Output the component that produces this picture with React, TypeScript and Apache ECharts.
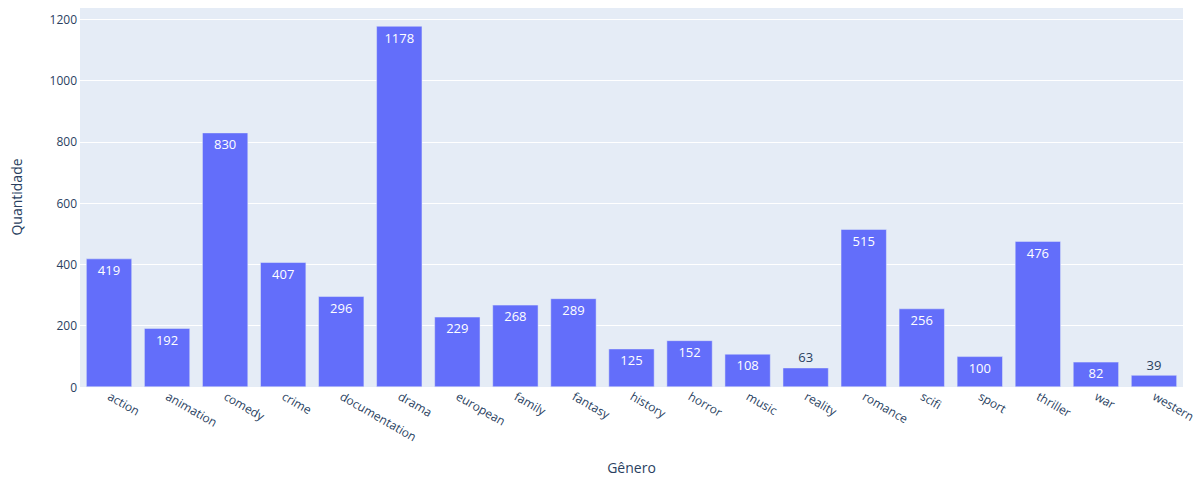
import React, { useEffect, useRef } from "react";
import * as echarts from "echarts";

const categories = [
  "action", "animation", "comedy", "crime", "documentation", "drama", "european",
  "family", "fantasy", "history", "horror", "music", "reality", "romance", "scifi",
  "sport", "thriller", "war", "western",
];
const counts = [419, 192, 830, 407, 296, 1178, 229, 268, 289, 125, 152, 108, 63, 515, 256, 100, 476, 82, 39];
const yTicks = [0, 200, 400, 600, 800, 1000, 1200];

const TEXT = "#2a3f5f";
const FONT = "'Open Sans', verdana, arial, sans-serif";

export default function App() {
  const ref = useRef<HTMLDivElement>(null);
  useEffect(() => {
    document.body.style.margin = "0";
    const chart = echarts.init(ref.current!, null, { renderer: "svg" });
    const data = counts.map((v) =>
      v < 70
        ? { value: v, label: { position: "top", color: TEXT, distance: 4 } }
        : { value: v }
    );
    chart.setOption({
      animation: false,
      textStyle: { fontFamily: FONT },
      grid: {
        left: 80, right: 21, top: 7, bottom: 93,
        outerBoundsMode: "none",
        containLabel: false,
        show: true, backgroundColor: "#E5ECF6", borderWidth: 0,
      },
      xAxis: {
        type: "category",
        data: categories,
        name: "Gênero",
        nameLocation: "middle",
        nameGap: 73,
        nameMoveOverlap: false,
        nameTextStyle: { color: TEXT, fontSize: 14, fontFamily: FONT },
        axisLine: { show: false },
        axisTick: { show: false },
        axisLabel: { rotate: -30, color: TEXT, fontSize: 12, margin: 8, fontFamily: FONT, interval: 0 },
      },
      yAxis: {
        type: "value",
        min: 0,
        max: 1240,
        interval: 200,
        name: "Quantidade",
        nameLocation: "middle",
        nameGap: 57,
        nameMoveOverlap: false,
        nameTextStyle: { color: TEXT, fontSize: 14, fontFamily: FONT },
        axisLine: { show: false },
        axisTick: { show: false },
        axisLabel: {
          color: TEXT, fontSize: 12, margin: 3, fontFamily: FONT,
          formatter: (v: number) => (yTicks.includes(v) ? String(v) : ""),
        },
        splitLine: { lineStyle: { color: "#ffffff", width: 1 } },
      },
      series: [
        {
          type: "bar",
          data,
          barCategoryGap: "21%",
          itemStyle: { color: "#636efa", borderColor: "#E5ECF6", borderWidth: 0.5 },
          label: {
            show: true,
            position: "insideTop",
            distance: 5,
            color: "#ffffff",
            fontSize: 13,
            fontFamily: FONT,
          },
        },
      ],
    });
    return () => chart.dispose();
  }, []);
  return <div ref={ref} style={{ width: 1204, height: 480 }} />;
}
